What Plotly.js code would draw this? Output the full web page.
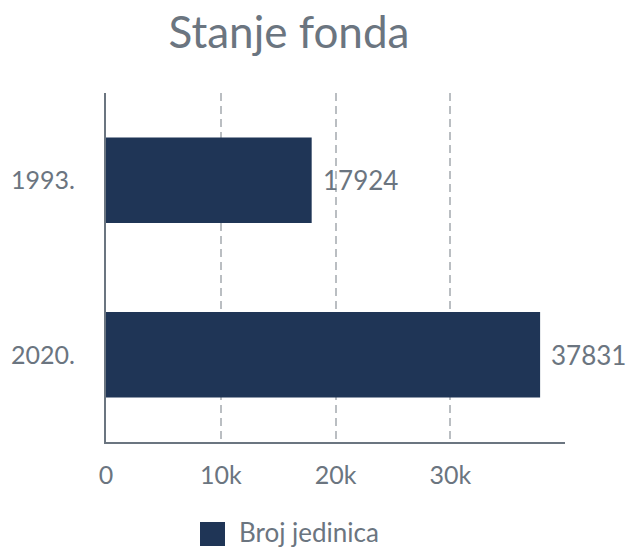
<!DOCTYPE html>
<html><head><meta charset="utf-8">
<script src="https://cdn.plot.ly/plotly-3.0.1.min.js"></script>
<style>html,body{margin:0;padding:0;background:#fff}#chart{width:626px;height:547px}</style>
</head><body><div id="chart"></div>
<script>
const categories = ["1993.", "2020."];
const values = [17924, 37831];
const seriesName = "Broj jedinica";
const xTickVals = [0, 10000, 20000, 30000];
const xTickText = ["0", "10k", "20k", "30k"];

const gray = "#6b7580";
const barColor = "#1f3556";
const W = 626, H = 547, ML = 106, MR = 61, MT = 93, MB = 105;
const pw = W - ML - MR, ph = H - MT - MB;
const px2paperX = px => (px - ML) / pw;
const px2paperY = py => (H - MB - py) / ph;

const trace = {
  type: "bar", orientation: "h",
  y: categories, x: values, name: seriesName,
  marker: {color: barColor},
  width: 0.49,
  cliponaxis: false, hoverinfo: "none", showlegend: false
};
// category axes treat numeric-looking strings as indices in annotations, so use the index
const labels = categories.map((c, i) => ({
  x: values[i], y: i, xref: "x", yref: "y", text: String(values[i]),
  showarrow: false, xanchor: "left", yanchor: "middle", xshift: 9,
  font: {family: "Lato", size: 26, color: gray}
}));
labels.push({
  x: px2paperX(237), y: px2paperY(532), xref: "paper", yref: "paper",
  text: seriesName, showarrow: false, xanchor: "left", yanchor: "middle",
  font: {family: "Lato", size: 26, color: gray}
});
const layout = {
  width: W, height: H,
  margin: {l: ML, r: MR, t: MT, b: MB, autoexpand: false},
  paper_bgcolor: "#fff", plot_bgcolor: "#fff",
  font: {family: "Lato", color: gray},
  title: {text: "Stanje fonda", font: {family: "Lato", size: 44, color: gray},
          x: 289 / W, xanchor: "center", y: 0.94, yanchor: "middle"},
  xaxis: {range: [0, 40000], tickvals: xTickVals, ticktext: xTickText,
          showgrid: true, gridcolor: "#babec2", griddash: "8px,5px", gridwidth: 2,
          showline: true, linecolor: gray, linewidth: 2, zeroline: false,
          ticks: "", ticklabelstandoff: 10, automargin: false,
          tickfont: {family: "Lato", size: 25, color: gray}, fixedrange: true},
  yaxis: {type: "category", categoryorder: "array", categoryarray: categories,
          autorange: "reversed", automargin: false,
          showline: true, linecolor: gray, linewidth: 2, showgrid: false,
          ticks: "", ticklabelstandoff: 24,
          tickfont: {family: "Lato", size: 25, color: gray}, fixedrange: true},
  showlegend: false,
  annotations: labels,
  shapes: [{type: "rect", xref: "paper", yref: "paper",
            x0: px2paperX(200), x1: px2paperX(225),
            y0: px2paperY(546), y1: px2paperY(522),
            fillcolor: barColor, line: {width: 0}}]
};
Plotly.newPlot("chart", [trace], layout, {displayModeBar: false, staticPlot: true});
</script></body></html>
